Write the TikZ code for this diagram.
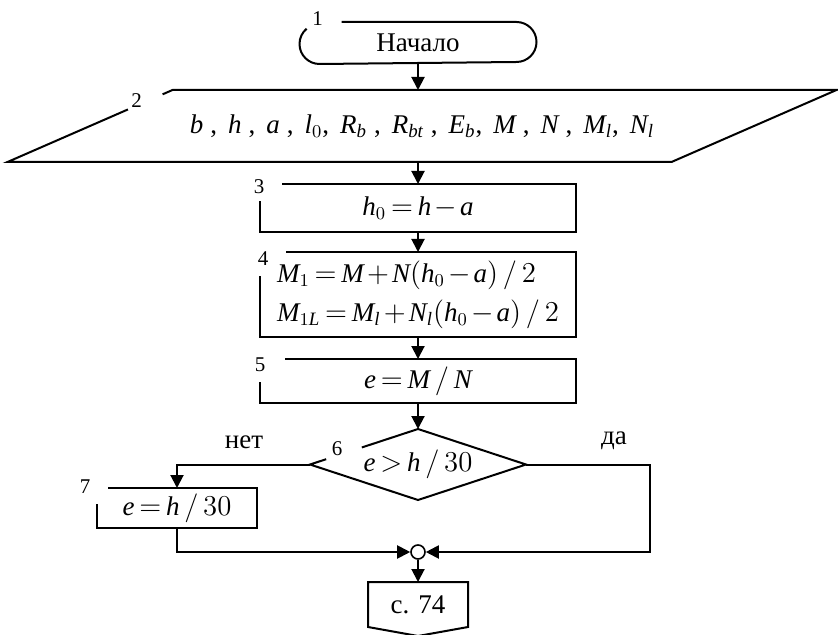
\documentclass[tikz,border=0pt]{standalone}
\usepackage{fontspec}
\setmainfont{Liberation Serif}
\usetikzlibrary{calc,arrows.meta}
\newcommand\iv[1]{\mathit{#1}}
\newcommand\sep{\hspace{3.5pt},\hspace{5.5pt}}
\newcommand\sepn{,\hspace{5.5pt}}
% box with the top left corner left open for the block number
\newcommand\cutbox[3]{\draw ($(#1.north west)+(#2,0)$) -- (#1.north east) -- (#1.south east)
  -- (#1.south west) -- ($(#1.north west)+(0,#3)$);}
\tikzset{
  every picture/.style={line width=1pt, line join=miter},
  blk/.style={rectangle, inner sep=0pt, minimum width=157pt},
  num/.style={font=\fontsize{10.5}{12}\selectfont, inner sep=0pt},
  flow/.style={-{Triangle[length=6.5pt,width=6.5pt]}},
}
\thickmuskip=3mu plus 1mu
\medmuskip=2mu
\begin{document}
\begin{tikzpicture}[x=0.5pt, y=-0.5pt, font=\fontsize{13.5}{16}\selectfont]
\useasboundingbox (0,0) rectangle (838,635);
% blocks
\node[blk, minimum width=117.5pt, minimum height=20pt] (start) at (418,43) {Начало};
\node[blk, minimum width=413.5pt, minimum height=35pt] (input) at (422,126)
  {$\iv{b}$\sep$\iv{h}$\sep$\iv{a}$\sep$\iv{l}_0$\sepn$\iv{R}_{\iv{b}}$\sep$\iv{R}_{\iv{bt}}$\sep
   $\iv{E}_{\iv{b}}$\sepn$\iv{M}$\sep$\iv{N}$\sep$\iv{M}_{\iv{l}}$\sepn$\iv{N}_{\iv{l}}$};
\node[blk, minimum height=23pt] (h0) at (418,208) {$\iv{h}_0=\iv{h}-\iv{a}$};
\node[blk, minimum height=41.5pt, align=left, font=\fontsize{13.5}{19.5}\selectfont] (moments) at (418,294.5)
  {$\iv{M}_1=\iv{M}+\iv{N}(\iv{h}_0-\iv{a})\,/\,2$\\
   $\iv{M}_{1\iv{L}}=\iv{M}_{\iv{l}}+\iv{N}_{\iv{l}}(\iv{h}_0-\iv{a})\,/\,2$};
\node[blk, minimum height=21pt] (ecc) at (418,381) {$\iv{e}=\iv{M}\,/\,\iv{N}$};
\node[blk, minimum width=107pt, minimum height=34.5pt] (check) at (418,464.5) {$\iv{e}>\iv{h}\,/\,30$};
\node[blk, minimum width=79pt, minimum height=19pt] (emin) at (177,508) {$\iv{e}=\iv{h}\,/\,30$};
\node[circle, draw, minimum size=7pt, inner sep=0pt, line width=0.8pt] (join) at (418,552) {};
\node[blk, minimum width=49pt, minimum height=21.5pt] (next) at (418,604.5) {с. 74};

% outlines
\draw ($(start.north west)+(42,0)$) -- ($(start.north east)+(-20,0)$)
  arc[start angle=90, end angle=-90, radius=10pt] -- ($(start.south west)+(20,0)$)
  arc[start angle=270, end angle=130, radius=10pt];
\coordinate (inTL) at ($(input.north west)+(165,0)$);
\coordinate (inBR) at ($(input.south east)+(-165,0)$);
\draw ($(input.south west)!0.94!(inTL)$) -- (inTL) -- (input.north east) -- (inBR)
  -- (input.south west) -- ($(input.south west)!0.73!(inTL)$);
\cutbox{h0}{22}{17}
\cutbox{moments}{26}{24}
\cutbox{ecc}{25}{23}
\cutbox{emin}{11}{16}
\draw ($(check.west)!0.48!(check.north)$) -- (check.north) -- (check.east) -- (check.south)
  -- (check.west) -- ($(check.west)!0.15!(check.north)$);
\draw (next.south west) -- (next.north west) -- (next.north east) -- (next.south east)
  -- ($(next.south)+(0,9)$) -- cycle;

% block numbers
\node[num] at ($(start.north west)+(18,-3)$) {1};
\node[num] at ($(input.north west)+(129,11)$) {2};
\node[num] at ($(h0.north west)+(-1,3)$) {3};
\node[num] at ($(moments.north west)+(3,7)$) {4};
\node[num] at ($(ecc.north west)+(0,6)$) {5};
\node[num] at ($(check.west)+(27,-16)$) {6};
\node[num] at ($(emin.north west)+(-12,-1)$) {7};
\node at ($(check.west)+(-66,-22)$) {нет};
\node at ($(check.east)+(88,-24)$) {да};

% flow
\draw[flow] (start.south) -- (start.south |- input.north);
\draw[flow] (start.south |- input.south) -- (h0.north);
\draw[flow] (h0) -- (moments);
\draw[flow] (moments) -- (ecc);
\draw[flow] (ecc) -- (check);
\draw[flow] (check.west) -| (emin.north);
\draw[flow] (emin.south) |- (join.west);
\draw[flow] (check.east) -- ++(124,0) |- (join.east);
\draw[flow] (join) -- (next);
\end{tikzpicture}
\end{document}
